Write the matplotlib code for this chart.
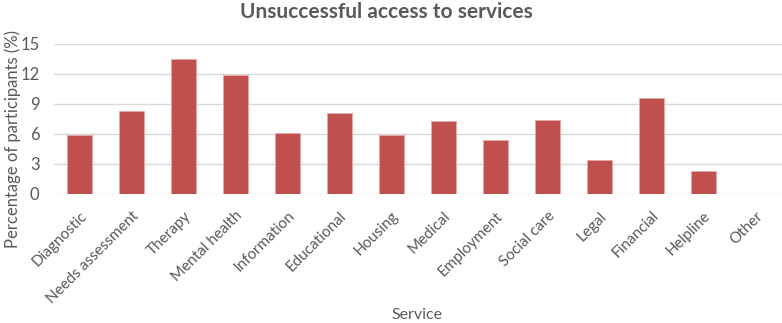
import matplotlib
matplotlib.use("Agg")
from matplotlib import pyplot as plt

services = ["Diagnostic", "Needs assessment", "Therapy", "Mental health", "Information",
            "Educational", "Housing", "Medical", "Employment", "Social care", "Legal",
            "Financial", "Helpline", "Other"]
percent = [5.9, 8.3, 13.5, 11.9, 6.1, 8.05, 5.9, 7.3, 5.4, 7.4, 3.4, 9.6, 2.3, 0]
yticks = [0, 3, 6, 9, 12, 15]

plt.rcParams['font.family'] = ['Lato', 'DejaVu Sans']
grey = '#595959'

fig = plt.figure(figsize=(7.82, 3.23), dpi=100)
ax = fig.add_axes([53.5 / 782, 1 - 193.5 / 323, 728 / 782, 150 / 323])

x = range(len(services))
ax.bar(x, percent, width=0.49, color='#C0504D', edgecolor='#E8A9A7', linewidth=0.6, zorder=3)

ax.set_xlim(-0.5, len(services) - 0.5)
ax.set_ylim(0, 15)
ax.set_yticks(yticks)
ax.set_yticklabels([str(v) for v in yticks], color=grey, fontsize=12)
ax.set_xticks(list(x))
ax.set_xticklabels(services, rotation=45, ha='right', rotation_mode='anchor',
                   color=grey, fontsize=11)
ax.tick_params(length=0)
ax.tick_params(axis='x', pad=11)
ax.tick_params(axis='y', pad=10)
ax.grid(axis='y', color='#D9D9D9', linewidth=1, zorder=0)
for s in ax.spines.values():
    s.set_visible(False)

fig.text(13 / 782, 1 - 139 / 323, "Percentage of participants (%)", color=grey, fontsize=12,
         rotation=90, ha='center', va='center')
fig.text(417 / 782, 1 - 315 / 323, "Service", color=grey, fontsize=11.5, ha='center', va='center')
fig.text(386 / 782, 1 - 12 / 323, "Unsuccessful access to services", color=grey,
         fontsize=15, fontweight='bold', ha='center', va='center')

fig.savefig("out.png", dpi=100)
